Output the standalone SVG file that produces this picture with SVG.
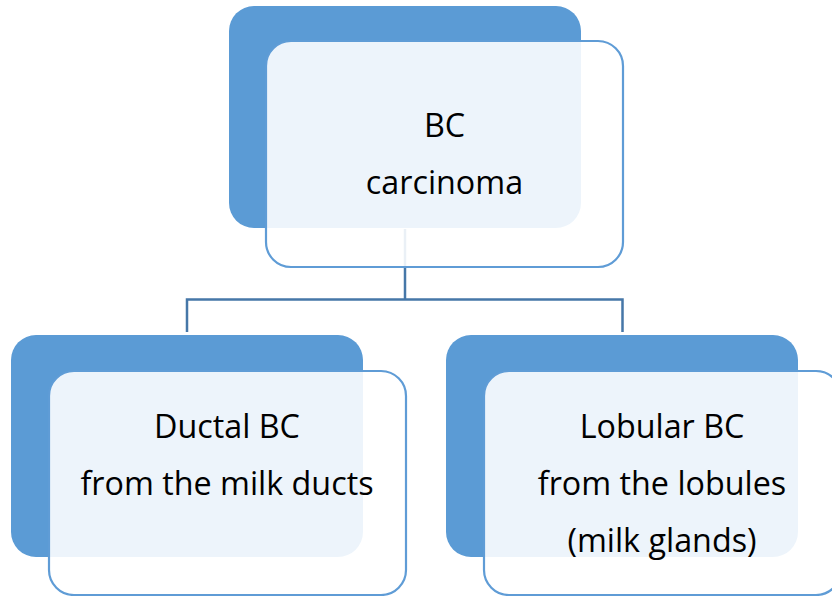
<svg xmlns="http://www.w3.org/2000/svg" width="832" height="596" viewBox="0 0 832 596">
  <style>
    .back { fill: #5B9BD5; }
    .front { fill: #FFFFFF; fill-opacity: 0.89; stroke: #5F9CD6; stroke-width: 2.2; }
    .label { font-family: "Open Sans", "Liberation Sans", sans-serif; font-size: 32.3px; fill: #000000; text-anchor: middle; }
    .link { fill: none; stroke: #4677A8; stroke-width: 2.5; }
  </style>
  <rect width="832" height="596" fill="#FFFFFF"/>

  <!-- hierarchy connectors (drawn under the cards) -->
  <g id="connectors">
    <path class="link" d="M405 229 V299.5"/>
    <path class="link" d="M187 332 V299.5 H622.5 V332"/>
  </g>

  <!-- root card -->
  <g id="node-bc-carcinoma">
    <rect class="back" x="229" y="6" width="352" height="222" rx="25"/>
    <rect class="front" x="266" y="41" width="357" height="226" rx="25"/>
    <text class="label" x="444.5" y="137">BC</text>
    <text class="label" x="444.5" y="194">carcinoma</text>
  </g>

  <!-- left child card -->
  <g id="node-ductal">
    <rect class="back" x="11" y="335" width="352" height="222" rx="25"/>
    <rect class="front" x="49" y="371" width="357" height="224" rx="25"/>
    <text class="label" x="227" y="438">Ductal BC</text>
    <text class="label" x="227" y="495">from the milk ducts</text>
  </g>

  <!-- right child card -->
  <g id="node-lobular">
    <rect class="back" x="446" y="335" width="352" height="222" rx="25"/>
    <rect class="front" x="484" y="371" width="357" height="224" rx="25"/>
    <text class="label" x="662" y="438">Lobular BC</text>
    <text class="label" x="662" y="495">from the lobules</text>
    <text class="label" x="662" y="552">(milk glands)</text>
  </g>
</svg>
